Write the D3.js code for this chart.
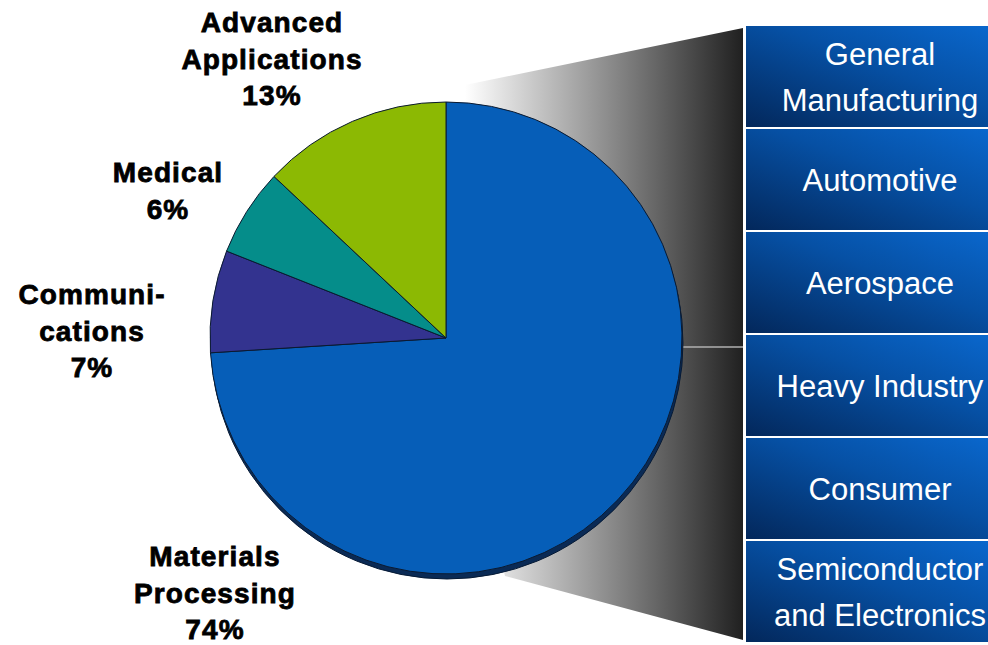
<!DOCTYPE html>
<html>
<head>
<meta charset="utf-8">
<script src="https://cdn.jsdelivr.net/npm/d3@7"></script>
<style>
  body { margin: 0; background: #fff; }
  svg { display: block; }
</style>
</head>
<body>
<div class="chart"></div>
<script>
// Data
const segments = ["Materials Processing", "Communications", "Medical", "Advanced Applications"];
const shares = [74, 7, 6, 13];
const sliceColors = ["#065eb8", "#33338f", "#058d8a", "#8cb903"];
const labelLines = [["Materials", "Processing"], ["Communi-", "cations"], ["Medical"], ["Advanced", "Applications"]];
const industries = [["General", "Manufacturing"], ["Automotive"], ["Aerospace"], ["Heavy Industry"], ["Consumer"], ["Semiconductor", "and Electronics"]];

// Layout
const width = 988, height = 645;
const cx = 446, cy = 338, radius = 236;
const labelPos = [[215, 566], [92, 304], [168, 182], [272, 32]];
const lineH = 36.5;

const svg = d3.select(".chart").append("svg")
    .attr("width", width)
    .attr("height", height);

const defs = svg.append("defs");

const fade = defs.append("linearGradient")
    .attr("id", "fade")
    .attr("gradientUnits", "userSpaceOnUse")
    .attr("x1", 465).attr("x2", 743).attr("y1", 0).attr("y2", 0);
fade.append("stop").attr("offset", 0).attr("stop-color", "#ffffff");
fade.append("stop").attr("offset", 1).attr("stop-color", "#202020");

const boxGrad = defs.append("linearGradient")
    .attr("id", "boxGrad")
    .attr("x1", 0).attr("y1", 1).attr("x2", 1).attr("y2", 0);
boxGrad.append("stop").attr("offset", 0).attr("stop-color", "#03275a");
boxGrad.append("stop").attr("offset", 0.55).attr("stop-color", "#0650a4");
boxGrad.append("stop").attr("offset", 1).attr("stop-color", "#0a6ad2");

// Industry boxes on the right
const boxTop = 25, boxBottom = 643, boxX = 745, boxW = 270;
const y = d3.scaleBand()
    .domain(industries.map((d, i) => i))
    .range([boxTop, boxBottom])
    .paddingInner(0);

// Zoom-out wedge linking pie to boxes
svg.append("path")
    .attr("d", d3.line()([[cx, cy], [465, 85], [743, 28], [743, 640], [505, 576]]) + "Z")
    .attr("fill", "url(#fade)");

svg.append("line")
    .attr("x1", cx + radius - 2).attr("x2", 743)
    .attr("y1", 347).attr("y2", 347)
    .attr("stroke", "#b0b0b0")
    .attr("stroke-width", 1.5);

const boxes = svg.append("g")
  .selectAll("g")
    .data(industries)
  .enter().append("g")
    .attr("transform", (d, i) => "translate(" + boxX + "," + y(i) + ")");

boxes.append("rect")
    .attr("width", boxW)
    .attr("height", y.bandwidth())
    .attr("fill", "url(#boxGrad)")
    .attr("stroke", "#ffffff")
    .attr("stroke-width", 2);

boxes.append("text")
    .attr("fill", "#ffffff")
    .attr("font-family", "Liberation Sans, Arial, sans-serif")
    .attr("font-size", 31)
    .attr("text-anchor", "middle")
    .each(function(d) {
      const t = d3.select(this);
      const mid = y.bandwidth() / 2 + 11 - (d.length - 1) * 23;
      d.forEach((line, j) => {
        t.append("tspan")
          .attr("x", 880 - boxX)
          .attr("y", mid + j * 46)
          .text(line);
      });
    });

// Pie
const pie = d3.pie().sort(null).value(d => d);
const arc = d3.arc().innerRadius(0).outerRadius(radius);

const g = svg.append("g")
    .attr("transform", "translate(" + cx + "," + cy + ")");

// 3D rim shadow
g.append("circle")
    .attr("cx", 1).attr("cy", 5)
    .attr("r", radius)
    .attr("fill", "#0a2a55")
    .attr("stroke", "#061a35")
    .attr("stroke-width", 1);

g.selectAll("path.slice")
    .data(pie(shares))
  .enter().append("path")
    .attr("class", "slice")
    .attr("d", arc)
    .attr("fill", (d, i) => sliceColors[i])
    .attr("stroke", "#0b1a30")
    .attr("stroke-width", 1);

// Labels
const labels = svg.append("g")
  .selectAll("text")
    .data(segments)
  .enter().append("text")
    .attr("font-family", "Liberation Sans, Arial, sans-serif")
    .attr("font-weight", "bold")
    .attr("font-size", 28)
    .attr("letter-spacing", 1.1)
    .attr("fill", "#000")
    .attr("stroke", "#000")
    .attr("stroke-width", 0.8)
    .attr("text-anchor", "middle")
    .each(function(d, i) {
      const t = d3.select(this);
      const lines = labelLines[i].concat([shares[i] + "%"]);
      lines.forEach((line, j) => {
        t.append("tspan")
          .attr("x", labelPos[i][0])
          .attr("y", labelPos[i][1] + j * lineH)
          .text(line);
      });
    });
</script>
</body>
</html>
